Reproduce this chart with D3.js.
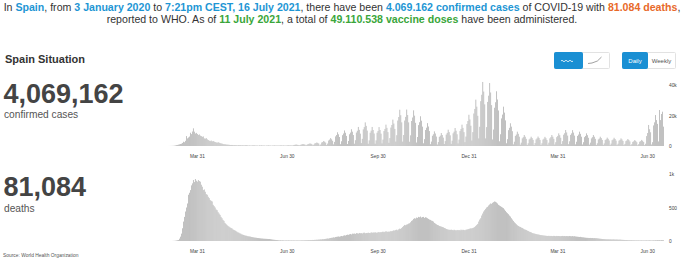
<!DOCTYPE html>
<html><head><meta charset="utf-8">
<script src="https://cdn.jsdelivr.net/npm/d3@7"></script>
<style>
body{margin:0;background:#fff;}
svg{display:block;font-family:"Liberation Sans",Arial,sans-serif;}
</style></head><body>
<svg id="c" width="684" height="261"></svg>
<script>
// ---------- data ----------
const seriesStart = "2020-03-01"; // first daily value
const axisStart = "2020-01-03", axisEnd = "2021-07-17";
const tickDates = ["2020-03-31","2020-06-30","2020-09-30","2020-12-31","2021-03-31","2021-06-30"];
const caseTicks = [0, 20, 40];      // thousands
const deathTicks = [0, 500, 1000];

// daily confirmed cases (thousands), one row per week
const casesK = [
0.01,0.02,0.03,0.05,0.08,0.1,0.15,
0.25,0.4,0.6,0.7,0.9,1.1,1.3,
1.5,2.0,2.8,2.5,3.4,6.5,5.0,
5.6,6.2,8.7,7.8,9.5,11.6,9.4,
8.2,8.6,7.9,7.2,7.6,6.8,6.5,
6.0,6.3,5.0,4.8,5.2,4.4,3.9,
3.5,3.2,3.6,3.0,3.3,2.9,2.6,
2.4,2.1,2.5,2.2,1.9,1.7,1.6,
1.3,1.1,1.2,1.0,0.9,0.9,0.8,
0.7,0.6,0.7,0.6,0.5,0.6,0.5,
0.5,0.4,0.6,0.5,0.5,0.4,0.5,
0.4,0.4,0.5,0.5,0.4,0.3,0.4,
0.3,0.3,0.4,0.4,0.4,0.3,0.3,
0.3,0.2,0.4,0.3,0.4,0.3,0.3,
0.3,0.2,0.3,0.3,0.4,0.3,0.3,
0.2,0.3,0.3,0.4,0.3,0.3,0.3,
0.3,0.3,0.4,0.4,0.3,0.4,0.3,
0.3,0.3,0.4,0.5,0.4,0.4,0.4,
0.3,0.5,0.7,0.8,1.0,0.8,0.7,
0.4,0.6,0.9,1.1,1.3,1.1,0.9,
0.4,0.8,1.2,1.4,1.7,1.5,1.2,
0.5,0.9,1.7,1.9,2.3,2.0,1.6,
0.4,1.0,2.3,2.6,3.3,2.8,2.2,
0.6,1.6,3.6,4.2,5.2,4.4,3.4,
1.1,2.7,6.3,7.2,9.0,7.7,5.9,
1.2,3.1,7.1,8.2,10.2,8.7,6.6,
1.3,3.3,7.7,8.8,11.0,9.4,7.2,
1.5,3.8,8.8,10.0,12.5,10.6,8.1,
1.9,4.7,10.9,12.4,15.5,13.2,10.1,
1.5,3.7,8.7,10.1,12.5,10.5,8.2,
1.5,3.7,8.7,9.9,12.4,10.5,8.1,
1.7,4.2,9.8,11.2,14.0,11.9,9.1,
2.1,5.2,12.1,13.8,17.3,14.7,11.2,
2.9,7.1,16.7,19.0,23.8,20.2,15.5,
2.9,7.2,16.7,19.1,23.9,20.3,15.5,
2.8,7.0,16.4,18.7,23.4,19.9,15.2,
2.3,5.9,13.7,15.6,19.5,16.6,12.7,
1.8,4.5,10.5,12.0,15.0,12.8,9.8,
1.2,2.9,6.7,7.7,9.6,8.2,6.2,
1.0,2.6,6.0,6.8,8.5,7.2,5.5,
1.3,3.2,7.5,8.6,10.7,9.1,7.0,
1.4,3.5,8.3,9.4,11.8,10.0,7.7,
1.7,4.2,9.8,11.2,14.0,11.9,9.1,
2.5,6.2,14.4,16.4,20.5,17.4,13.3,
3.6,9.1,21.3,24.3,30.4,25.8,19.8,
5.0,12.6,29.4,33.6,42.0,35.7,27.3,
5.0,12.4,28.9,33.0,41.3,35.1,26.8,
4.3,10.8,25.1,28.7,35.9,30.5,23.3,
3.1,7.7,18.1,20.6,25.8,21.9,16.8,
1.8,4.5,10.4,11.9,14.9,12.7,9.7,
1.1,2.8,6.6,7.5,9.4,8.0,6.1,
0.9,2.2,5.0,5.8,7.2,6.1,4.7,
0.7,1.8,4.3,4.9,6.1,5.2,4.0,
0.7,1.9,4.3,5.0,6.2,5.3,4.0,
0.7,1.8,4.2,4.8,6.0,5.1,3.9,
0.9,2.2,5.0,5.8,7.2,6.1,4.7,
1.0,2.5,5.8,6.6,8.3,7.1,5.4,
1.3,3.2,7.4,8.4,10.5,8.9,6.8,
1.2,3.1,7.3,8.3,10.4,8.8,6.8,
1.1,2.8,6.6,7.5,9.4,8.0,6.1,
1.0,2.5,5.8,6.6,8.3,7.1,5.4,
0.9,2.2,5.0,5.8,7.2,6.1,4.7,
0.7,1.8,4.3,4.9,6.1,5.2,4.0,
0.7,1.7,3.9,4.4,5.5,4.7,3.6,
0.6,1.6,3.8,4.3,5.4,4.6,3.5,
0.6,1.5,3.5,4.0,5.0,4.3,3.3,
0.6,1.4,3.2,3.7,4.6,3.9,3.0,
0.5,1.2,2.7,3.1,3.9,3.3,2.5,
0.5,1.2,2.8,3.2,4.0,3.4,2.6,
0.6,1.5,6.5,8.5,13.8,11.0,9.0,
1.0,2.5,13.5,15.5,20.3,17.0,14.5,
3.0,23.6,17.0,21.0,22.5,12.7
];

// daily deaths, one row per week
const deaths = [
0,0,0,0,0,1,2,
3,5,8,12,15,35,65,
110,190,290,360,440,500,560,
690,720,760,830,860,910,880,
925,900,885,910,895,885,840,
810,760,770,735,700,690,660,
640,610,600,590,540,520,500,
470,460,430,410,390,360,340,
315,300,270,255,240,225,215,
205,195,190,175,165,160,150,
140,130,125,115,110,100,95,
90,85,80,78,72,70,68,
65,60,58,55,52,50,48,
45,44,42,40,38,37,35,
34,33,32,31,30,30,28,
25,22,20,18,16,15,14,
12,10,12,9,11,10,8,
9,10,8,11,9,8,10,
8,9,10,7,9,10,8,
9,8,10,11,9,10,12,
11,13,12,14,13,15,14,
16,15,18,17,20,19,22,
22,25,24,28,27,30,32,
35,38,36,42,45,48,50,
55,52,60,62,65,68,64,
70,75,72,80,85,82,90,
95,92,100,105,98,110,108,
112,105,118,115,110,120,116,
118,112,122,125,115,120,118,
125,120,118,130,122,128,125,
130,126,120,135,128,132,130,
135,140,132,138,145,140,136,
142,138,150,145,152,160,155,
165,170,160,175,185,180,195,
210,225,240,235,245,250,260,
265,280,300,310,330,340,335,
350,345,360,355,365,350,358,
360,345,355,350,340,330,320,
315,305,300,290,270,260,250,
240,235,225,220,215,210,205,
195,190,180,175,170,168,165,
170,165,160,168,162,158,165,
160,165,158,170,162,168,165,
160,168,172,175,180,185,190,
188,195,200,210,225,240,255,
290,320,340,380,410,440,460,
480,500,510,530,545,560,555,
570,580,590,585,575,560,540,
530,520,510,500,490,470,450,
430,415,400,380,365,340,320,
300,280,265,250,235,225,215,
210,200,195,185,175,170,165,
155,150,140,135,130,120,115,
112,108,104,100,98,95,90,
88,86,84,82,80,78,76,
75,78,74,76,75,73,77,
75,72,76,74,75,73,72,
74,76,73,75,72,74,73,
72,75,73,71,74,70,72,
68,66,64,62,60,62,58,
56,55,52,50,48,47,46,
45,46,44,45,43,44,42,
42,40,38,36,34,32,30,
29,28,27,26,25,26,24,
25,24,23,25,24,22,23,
22,21,20,22,19,18,17,
16,15,14,15,13,12,12,
11,12,10,11,10,9,10,
9,10,8,9,10,8,9,
8,9,10,8,9,10,9,
8,9,10,9,11,10,12,
11,12,10,13,12,11
];

const headerLine1 = [
  ["In ", "t"], ["Spain", "b"], [", from ", "t"], ["3 January 2020", "b"], [" to ", "t"],
  ["7:21pm CEST, 16 July 2021", "b"], [", there have been ", "t"],
  ["4.069.162 confirmed cases", "b"], [" of COVID-19 with ", "t"], ["81.084 deaths", "o"], [",", "t"]
];
const headerLine2 = [
  ["reported to WHO. As of ", "t"], ["11 July 2021", "g"], [", a total of ", "t"],
  ["49.110.538 vaccine doses", "g"], [" have been administered.", "t"]
];
const panels = [
  {total: "4,069,162", label: "confirmed cases", values: casesK, ticks: caseTicks, fmt: d => d ? d + "k" : "0"},
  {total: "81,084", label: "deaths", values: deaths, ticks: deathTicks, fmt: d => d >= 1000 ? (d/1000) + "k" : String(d)}
];

// ---------- drawing ----------
const svg = d3.select("#c");
const parse = d3.timeParse("%Y-%m-%d");
const segColor = {t: "#333", b: "#1e96d4", o: "#e8692a", g: "#3aa63a"};

function header(segs, yBase) {
  const t = svg.append("text").attr("x", 342).attr("y", yBase).attr("text-anchor", "middle")
    .attr("font-size", 10.6);
  segs.forEach(([s, k]) => t.append("tspan").text(s).attr("fill", segColor[k])
    .attr("font-weight", k === "t" ? "normal" : "bold"));
}
header(headerLine1, 10.5);
header(headerLine2, 23);

svg.append("text").attr("x", 5).attr("y", 62.5).attr("font-size", 11).attr("font-weight", "bold")
  .attr("fill", "#333").text("Spain Situation");

// toggle buttons
function btnGroup(x, w1, w2) {
  const g = svg.append("g");
  g.append("rect").attr("x", x + 0.5).attr("y", 52.5).attr("width", w1 + w2).attr("height", 16)
    .attr("fill", "#fff").attr("stroke", "#e2e2e2").attr("rx", 1);
  g.append("rect").attr("x", x + 0.5).attr("y", 52.5).attr("width", w1).attr("height", 16)
    .attr("fill", "#1a8fd3").attr("stroke", "#1a8fd3").attr("rx", 1);
  return g;
}
const g1 = btnGroup(554, 28, 27);
g1.append("path").attr("d", "M561,61 q1,-1.5 2,0 t2,0 t2,0 t2,0 t2,0 t2,0")
  .attr("fill", "none").attr("stroke", "#fff").attr("stroke-width", 0.8);
g1.append("path").attr("d", "M588,63.5 L592,63 Q598,62 601.5,57")
  .attr("fill", "none").attr("stroke", "#888").attr("stroke-width", 0.8);
const g2 = btnGroup(622, 25, 28);
g2.append("text").attr("x", 635).attr("y", 62.6).attr("text-anchor", "middle").attr("font-size", 6)
  .attr("fill", "#fff").text("Daily");
g2.append("text").attr("x", 661.5).attr("y", 62.6).attr("text-anchor", "middle").attr("font-size", 6)
  .attr("fill", "#555").text("Weekly");

const x = d3.scaleTime().domain([parse(axisStart), parse(axisEnd)]).range([110, 664]);
const start = parse(seriesStart);

const layout = [
  {base: 146, top: 85, topVal: 40, totalY: 102.5, labelY: 117.5},
  {base: 241, top: 174, topVal: 1000, totalY: 196, labelY: 212}
];

panels.forEach((p, i) => {
  const L = layout[i];
  const y = d3.scaleLinear().domain([0, L.topVal]).range([L.base, L.top]);
  svg.append("text").attr("x", 3.5).attr("y", L.totalY).attr("font-size", 27).attr("font-weight", "bold")
    .attr("fill", "#444").text(p.total);
  svg.append("text").attr("x", 4).attr("y", L.labelY).attr("font-size", 10.2)
    .attr("fill", "#555").text(p.label);

  const data = p.values.map((v, k) => ({d: d3.timeDay.offset(start, k), v}));
  svg.append("g").selectAll("rect").data(data).join("rect")
    .attr("x", d => x(d.d))
    .attr("width", d => (x(d3.timeDay.offset(d.d, 1)) - x(d.d)) * 0.9)
    .attr("y", d => y(d.v))
    .attr("height", d => L.base - y(d.v))
    .attr("fill", "#bababa");

  const ax = svg.append("g").attr("transform", `translate(0,${L.base})`)
    .call(d3.axisBottom(x).tickValues(tickDates.map(parse)).tickFormat(d3.timeFormat("%b %d"))
      .tickSize(0).tickPadding(8.5));
  ax.select(".domain").remove();
  ax.selectAll("text").attr("font-size", 4.8).attr("fill", "#444").attr("font-family", null);

  const ay = svg.append("g").attr("transform", "translate(669,0)")
    .call(d3.axisRight(y).tickValues(p.ticks).tickFormat(p.fmt).tickSize(0).tickPadding(0));
  ay.select(".domain").remove();
  ay.selectAll("text").attr("font-size", 4.8).attr("fill", "#444").attr("font-family", null);
});

svg.append("text").attr("x", 3).attr("y", 257).attr("font-size", 4.9).attr("fill", "#555")
  .text("Source:  World Health Organization");
</script>
</body></html>
